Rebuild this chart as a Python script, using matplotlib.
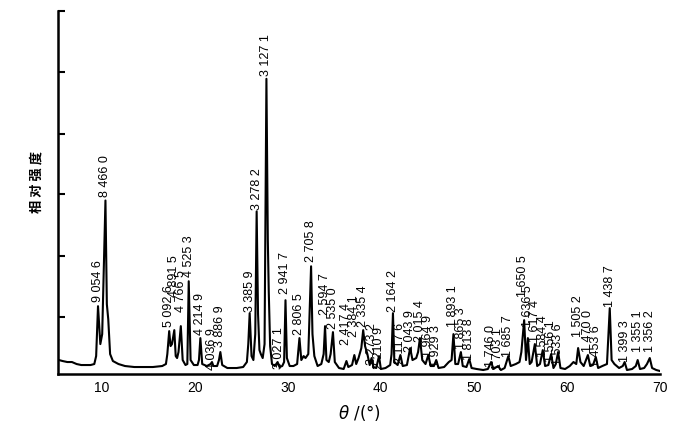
import matplotlib
matplotlib.use("Agg")
import matplotlib.pyplot as plt

# diffraction trace (2theta in degrees, intensity in a.u.)
two_theta = [5.4, 5.8, 6.3, 6.8, 7.3, 7.8, 8.3, 8.8, 9.2, 9.4, 9.6, 9.85, 10.05, 10.4, 10.55, 10.7, 10.9,
             11.2, 11.8, 12.5, 13.5, 14.5, 15.5, 16.5, 16.9, 17.05, 17.25, 17.4, 17.55, 17.8, 17.95, 18.1,
             18.25, 18.5, 18.7, 19.0, 19.2, 19.35, 19.55, 19.9, 20.3, 20.45, 20.6, 20.8, 21.3, 21.7, 21.85,
             22.0, 22.4, 22.6, 22.75, 22.95, 23.5, 24.5, 25.2, 25.6, 25.75, 25.9, 26.1, 26.3, 26.5, 26.65,
             26.8, 26.95, 27.1, 27.3, 27.5, 27.7, 27.85, 27.95, 28.1, 28.3, 28.6, 28.9, 29.1, 29.4, 29.6,
             29.75, 29.9, 30.2, 30.6, 31.0, 31.25, 31.45, 31.7, 31.9, 32.2, 32.5, 32.65, 32.85, 33.2, 33.6,
             33.85, 34.0, 34.15, 34.4, 34.6, 34.85, 35.05, 35.5, 36.0, 36.3, 36.5, 36.9, 37.15, 37.35, 37.6,
             37.9, 38.1, 38.3, 38.55, 38.8, 39.0, 39.2, 39.5, 39.8, 40.0, 40.5, 41.0, 41.15, 41.3, 41.45,
             41.8, 42.1, 42.35, 42.8, 43.15, 43.4, 43.8, 44.0, 44.2, 44.45, 44.8, 45.1, 45.35, 45.7, 45.95,
             46.2, 46.8, 47.3, 47.6, 47.8, 48.0, 48.3, 48.6, 48.8, 49.2, 49.5, 49.75, 50.3, 51.0, 51.5,
             51.85, 52.1, 52.6, 52.9, 53.3, 53.7, 53.95, 54.5, 54.9, 55.1, 55.4, 55.6, 55.8, 56.0, 56.2,
             56.55, 56.8, 57.1, 57.4, 57.65, 58.0, 58.3, 58.55, 58.8, 59.05, 59.3, 59.8, 60.3, 60.7, 61.0,
             61.2, 61.45, 61.8, 62.25, 62.5, 62.8, 63.1, 63.35, 63.8, 64.3, 64.6, 64.8, 65.1, 65.6, 66.0,
             66.2, 66.45, 67.0, 67.4, 67.6, 67.85, 68.3, 68.6, 68.9, 69.15, 69.6, 70.0]
intensity = [14, 13, 12, 12, 10, 9, 9, 9, 10, 18, 68, 30, 40, 174, 70, 55, 20,
             13, 10, 8, 7, 7, 7, 8, 10, 20, 43, 28, 30, 44, 18, 16,
             22, 48, 14, 9, 10, 93, 14, 9, 9, 14, 36, 10, 8, 10, 12,
             8, 8, 14, 22, 9, 6, 6, 7, 12, 30, 61, 18, 14, 40, 163,
             60, 24, 20, 16, 30, 296, 134, 83, 28, 10, 8, 12, 7, 8, 12,
             74, 16, 8, 8, 10, 36, 14, 18, 16, 20, 108, 40, 18, 8, 10,
             20, 48, 14, 12, 20, 42, 12, 6, 5, 13, 7, 9, 19, 10, 16,
             26, 44, 28, 20, 9, 16, 7, 6, 18, 5, 6, 9, 20, 61, 12,
             9, 19, 8, 9, 26, 14, 16, 22, 36, 14, 10, 19, 8, 8, 14,
             6, 7, 12, 14, 40, 10, 10, 22, 8, 7, 15, 6, 5, 4, 5,
             12, 5, 8, 4, 6, 18, 8, 10, 12, 22, 54, 14, 36, 10, 12,
             30, 8, 10, 24, 8, 9, 20, 6, 10, 22, 6, 5, 8, 12, 10,
             26, 12, 8, 19, 8, 9, 17, 6, 8, 10, 66, 14, 10, 6, 8,
             12, 4, 5, 8, 14, 5, 6, 10, 16, 6, 4, 3]

# d-spacing labels (angstrom) and the 2theta of the peak each one marks
d_labels = ["9 054 6", "8 466 0", "5 092 6", "4 891 5", "4 766 5", "4 525 3", "4 214 9", "4 036 9",
            "3 886 9", "3 385 9", "3 278 2", "3 127 1", "3 027 1", "2 941 7", "2 806 5", "2 705 8",
            "2 594 7", "2 535 0", "2 417 4", "2 384 1", "2 335 4", "2 273 2", "2 210 9", "2 164 2",
            "2 117 6", "2 043 9", "2 015 4", "1 964 9", "1 929 3", "1 893 1", "1 865 3", "1 813 8",
            "1 746 0", "1 703 1", "1 685 7", "1 650 5", "1 636 5", "1 617 4", "1 584 4", "1 556 1",
            "1 533 6", "1 505 2", "1 470 0", "1 453 6", "1 438 7", "1 399 3", "1 355 1", "1 356 2"]
peak_2theta = [9.6, 10.4, 17.2, 17.8, 18.5, 19.35, 20.6, 21.8,
               22.75, 25.9, 26.65, 27.7, 29.0, 29.75, 31.25, 32.5,
               34.0, 34.9, 36.3, 37.15, 38.1, 39.0, 39.8, 41.3,
               42.1, 43.15, 44.2, 45.1, 45.95, 47.8, 48.6, 49.5,
               51.85, 52.6, 53.7, 55.3, 55.8, 56.55, 57.4, 58.3,
               59.05, 61.2, 62.25, 63.1, 64.6, 66.2, 67.6, 68.9]
# height where each label starts (labels are staggered in the crowded part)
label_base = [71, 176, 46, 76, 61, 96, 38, 3,
              26, 61, 163, 298, 4, 79, 38, 111,
              58, 44, 28, 36, 46, 8, 4, 61,
              9, 21, 31, 16, 6, 46, 24, 13,
              6, 3, 16, 76, 46, 31, 16, 11,
              8, 36, 21, 6, 66, 11, 21, 21]

fig = plt.figure(figsize=(6.74, 4.27), dpi=100)
ax = fig.add_axes([58 / 674, 52 / 427, 602 / 674, 363 / 427])

ax.plot(two_theta, intensity, color='black', lw=1.5)

for lab, x, y in zip(d_labels, peak_2theta, label_base):
    ax.text(x, y + 2, lab, rotation=90, ha='center', va='bottom',
            fontsize=9, family=['Liberation Sans', 'DejaVu Sans'])

ax.set_xlim(5.3, 70.0)
ax.set_ylim(0, 364)
ax.set_xticks([10, 20, 30, 40, 50, 60, 70])
ax.set_yticks([57, 118, 180, 241, 303, 364])
ax.set_yticklabels([])
ax.tick_params(axis='y', direction='in', length=5, width=1.5)
ax.tick_params(axis='x', length=0, pad=4, labelsize=10)
for t in ax.get_xticklabels():
    t.set_family(['Liberation Sans', 'DejaVu Sans'])

for side in ['top', 'right']:
    ax.spines[side].set_visible(False)
for side in ['left', 'bottom']:
    ax.spines[side].set_linewidth(1.8)

ax.set_xlabel(r'$\theta$ /(°)', fontsize=12, labelpad=6)
fig.text(36 / 674, 1 - 182 / 427, '相 对 强 度', rotation=90, ha='center', va='center',
         fontsize=9.5, fontweight='bold', family=['Noto Sans CJK SC', 'DejaVu Sans'])

fig.savefig('out.png', dpi=100)
